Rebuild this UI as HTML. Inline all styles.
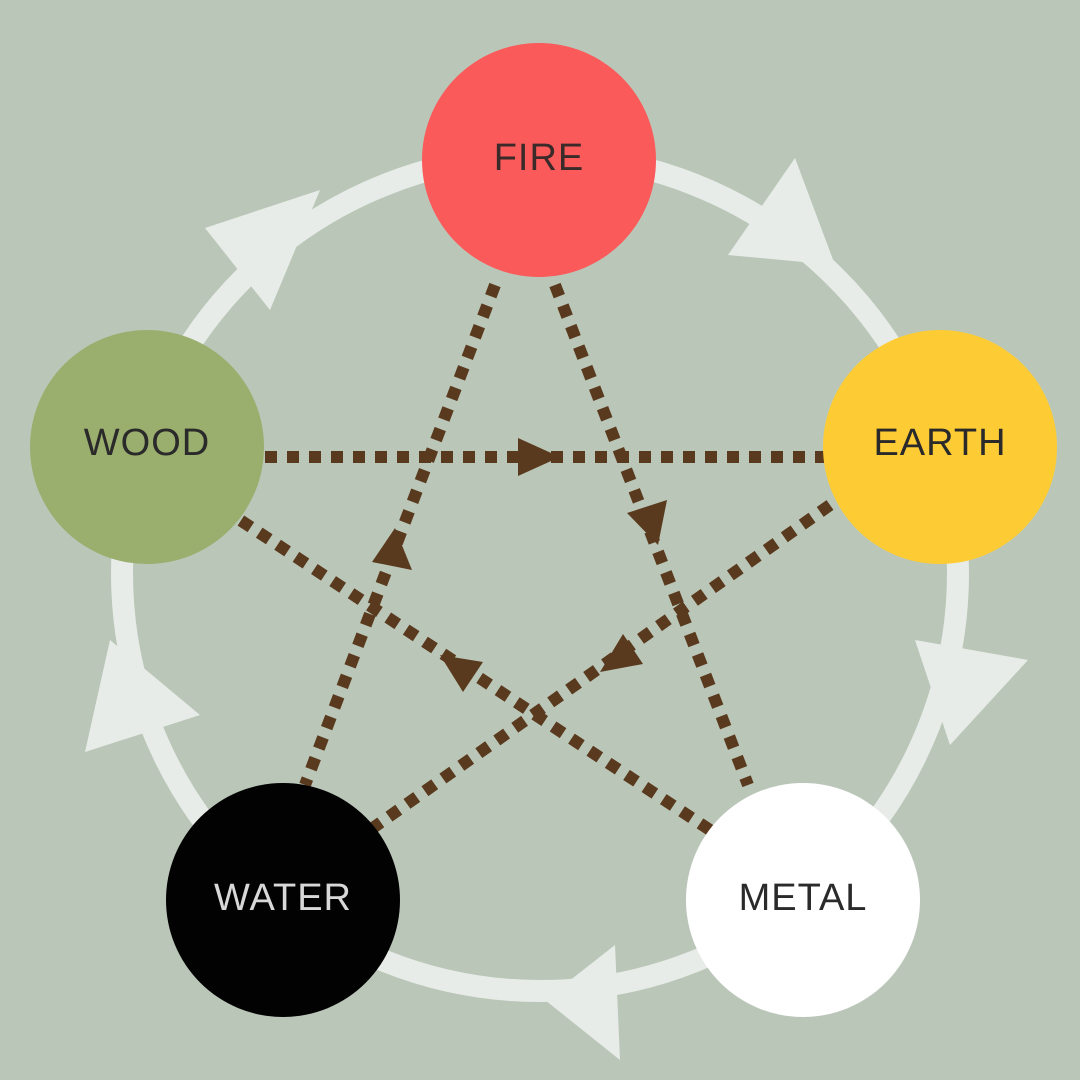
<!DOCTYPE html>
<html><head><meta charset="utf-8"><style>
html,body{margin:0;padding:0;background:#BAC7B8;}
svg{display:block}
text{font-family:"Liberation Sans",sans-serif;font-size:38px;text-anchor:middle;dominant-baseline:central;letter-spacing:1px}
</style></head><body>
<svg width="1080" height="1080" viewBox="0 0 1080 1080">
<rect width="1080" height="1080" fill="#BAC7B8"/>
<circle cx="540" cy="573" r="418" fill="none" stroke="#E8ECE8" stroke-width="22"/>
<g fill="#E8ECE8">
<polygon points="205,228 320,190 270,310"/>
<polygon points="795,158 835,265 728,255"/>
<polygon points="915,640 1028,660 950,745"/>
<polygon points="615,945 620,1060 545,1000"/>
<polygon points="85,752 110,640 200,715"/>
</g>
<g stroke="#5A3A1E" stroke-width="12" stroke-dasharray="12 10" fill="none">
<line x1="265" y1="457" x2="825" y2="457"/>
<line x1="555" y1="285" x2="748" y2="785"/>
<line x1="495" y1="285" x2="305" y2="785"/>
<line x1="830" y1="505" x2="370" y2="830"/>
<line x1="710" y1="830" x2="240" y2="520"/>
</g>
<g fill="#5A3A1E">
<polygon points="560,457 518,438 518,476"/>
<polygon points="658,545 627,513 667,500"/>
<polygon points="395,528 372,562 412,570"/>
<polygon points="600,672 643,664 623,634"/>
<polygon points="440,655 483,662 463,692"/>
</g>
<circle cx="539" cy="160" r="117" fill="#FA5A5A"/>
<circle cx="147" cy="447" r="117" fill="#9AAE6E"/>
<circle cx="940" cy="447" r="117" fill="#FDCC35"/>
<circle cx="283" cy="900" r="117" fill="#020202"/>
<circle cx="803" cy="900" r="117" fill="#FFFFFF"/>
<text x="539" y="158" fill="#3a2a2a">FIRE</text>
<text x="147" y="443" fill="#2a2a2a">WOOD</text>
<text x="940" y="443" fill="#2a2a2a">EARTH</text>
<text x="283" y="898" fill="#d8d8d8">WATER</text>
<text x="803" y="898" fill="#2a2a2a">METAL</text>
</svg>
</body></html>
